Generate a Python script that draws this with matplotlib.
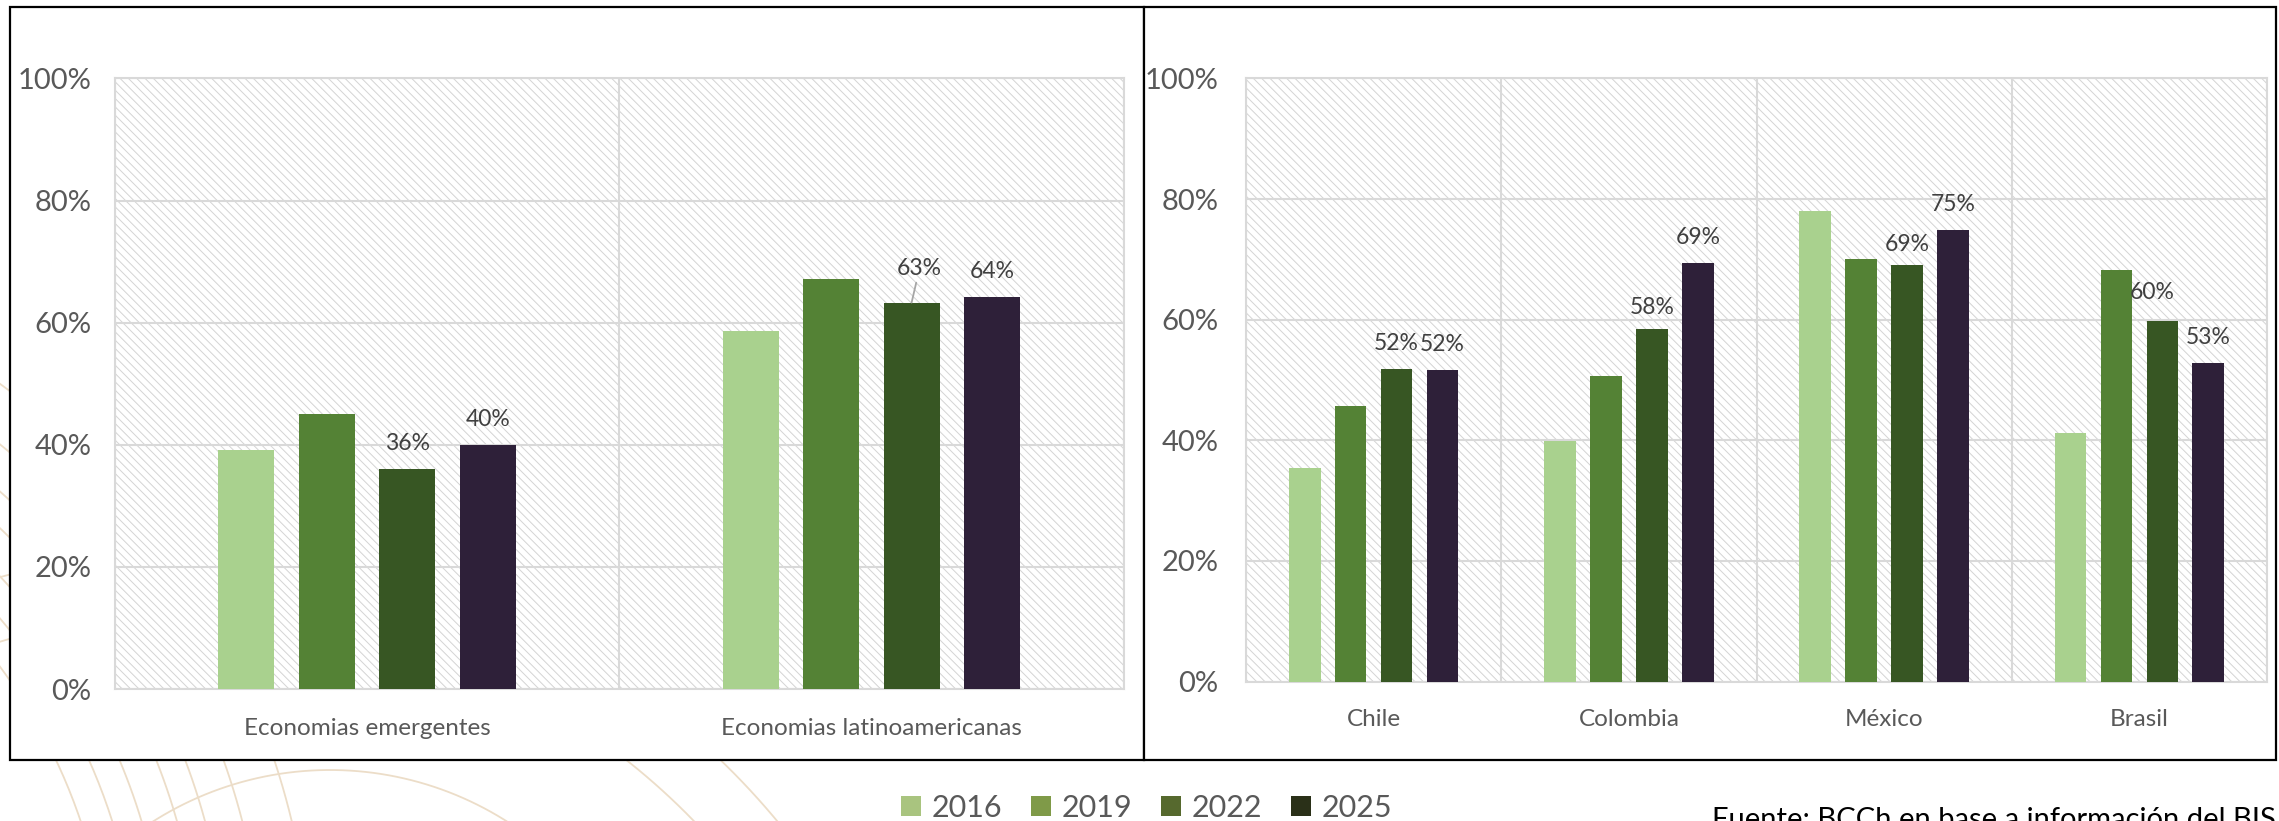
import matplotlib
matplotlib.use('Agg')
import matplotlib.pyplot as plt
import numpy as np
from matplotlib.patches import Rectangle, Patch

plt.rcParams['font.family'] = ['Lato', 'DejaVu Sans']
plt.rcParams['hatch.linewidth'] = 0.7
plt.rcParams['hatch.color'] = '#d4d4d4'

# ---------------- data ----------------
years = ['2016', '2019', '2022', '2025']

regions = ['Economias emergentes', 'Economias latinoamericanas']
region_2016 = [39.1, 58.7]
region_2019 = [45.1, 67.2]
region_2022 = [36.1, 63.3]
region_2025 = [40.0, 64.2]

countries = ['Chile', 'Colombia', 'México', 'Brasil']
country_2016 = [35.4, 39.9, 78.0, 41.2]
country_2019 = [45.7, 50.6, 70.1, 68.2]
country_2022 = [51.9, 58.4, 69.0, 59.8]
country_2025 = [51.6, 69.4, 74.8, 52.9]

labeled_years = ['2022', '2025']
yticks = [0, 20, 40, 60, 80, 100]
ytick_labels = ['0%', '20%', '40%', '60%', '80%', '100%']
source_text = 'Fuente: BCCh en base a información del BIS'

# ---------------- style ----------------
bar_colors = ['#A9D18E', '#548235', '#375623', '#2E2039']
legend_colors = ['#A9C47F', '#7F9A48', '#56692E', '#2A3018']
TXT = '#595959'
LBL = '#404040'
GRID = '#d9d9d9'
DECO = '#ECDDC8'

# label nudges (pixels) : (dx, dy, leader line)
label_nudge = {
    ('Economias latinoamericanas', '2022'): (8, 28, True),
    ('Brasil', '2022'): (-10, 22, False),
    ('Colombia', '2022'): (0, 15, False),
    ('México', '2022'): (0, 14, False),
}
DEFAULT_DY = 19

W, H = 2279, 821
fig = plt.figure(figsize=(W / 100, H / 100), dpi=100)


def fx(px):
    return px / W


def fy(py):
    return 1 - py / H


# ---------------- background decoration & frames ----------------
bg = fig.add_axes([0, 0, 1, 1], zorder=-10)
bg.set_xlim(0, W)
bg.set_ylim(H, 0)
bg.axis('off')

t = np.linspace(0, 2 * np.pi, 800)
for r in [560, 590, 618, 652, 679, 715, 763]:
    bg.plot(-450 + r * np.cos(t), 1000 + r * np.sin(t), color=DECO, lw=1.3)
bg.plot(330 + 330 * np.cos(t), 1100 + 330 * np.sin(t), color=DECO, lw=1.3)
for r in [688, 750]:
    bg.plot(200 + r * np.cos(t), 1300 + r * np.sin(t), color=DECO, lw=1.3)

bg.add_patch(Rectangle((10, 7), 1134, 753, facecolor='white', edgecolor='black', lw=1.6, zorder=5))
bg.add_patch(Rectangle((1144, 7), 1132, 753, facecolor='white', edgecolor='black', lw=1.6, zorder=5))


# ---------------- charts ----------------
def draw(ax, cats, series, width, step, xpad, ypad):
    n = len(cats)
    x = np.arange(n)
    ax.set_facecolor('white')
    ax.add_patch(Rectangle((0, 0), 1, 1, transform=ax.transAxes, facecolor='white',
                           edgecolor='#d4d4d4', hatch='\\\\\\\\', lw=0, zorder=0))
    for i, (yr, vals, col) in enumerate(zip(years, series, bar_colors)):
        xs = x + (i - 1.5) * step
        ax.bar(xs, vals, width, color=col, edgecolor='none', zorder=3)
        if yr in labeled_years:
            for cat, xi, v in zip(cats, xs, vals):
                dx, dy, leader = label_nudge.get((cat, yr), (0, DEFAULT_DY, False))
                kw = {}
                if leader:
                    kw['arrowprops'] = dict(arrowstyle='-', color='#a6a6a6', lw=1.3,
                                            shrinkA=1, shrinkB=0)
                ax.annotate(f'{round(v)}%', xy=(xi, v), xytext=(dx, dy),
                            textcoords='offset pixels', ha='center', va='baseline',
                            fontsize=16.5, color=LBL, zorder=5, **kw)
    ax.set_xlim(-0.5, n - 0.5)
    ax.set_ylim(0, 100)
    ax.set_yticks(yticks)
    ax.set_yticklabels(ytick_labels)
    ax.set_xticks(x)
    ax.set_xticklabels(cats)
    ax.set_xticks(np.arange(-0.5, n, 1.0), minor=True)
    ax.set_axisbelow(True)
    ax.yaxis.grid(True, color=GRID, lw=1.5)
    ax.xaxis.grid(True, which='minor', color=GRID, lw=1.5)
    ax.xaxis.grid(False, which='major')
    for s in ax.spines.values():
        s.set_color(GRID)
        s.set_linewidth(1.5)
    ax.tick_params(axis='y', length=0, labelsize=21, labelcolor=TXT, pad=ypad)
    ax.tick_params(axis='x', which='both', length=0, labelsize=17.5, labelcolor=TXT, pad=xpad)


axL = fig.add_axes([fx(115), fy(689), (1123.5 - 115) / W, (689 - 78.5) / H])
draw(axL, regions, [region_2016, region_2019, region_2022, region_2025],
     width=0.111, step=0.1596, xpad=21, ypad=17)

axR = fig.add_axes([fx(1246), fy(681.6), (2267 - 1246) / W, (681.6 - 78.5) / H])
draw(axR, countries, [country_2016, country_2019, country_2022, country_2025],
     width=0.124, step=0.180, xpad=20, ypad=20)

# ---------------- legend ----------------
handles = [Patch(facecolor=c, edgecolor='none', label=y) for c, y in zip(legend_colors, years)]
fig.legend(handles=handles, loc='center', bbox_to_anchor=(fx(1146.5), fy(808)), ncol=4,
           frameon=False, fontsize=22, handlelength=0.65, handleheight=0.65,
           handletextpad=0.35, columnspacing=0.95, labelcolor=TXT, borderpad=0)

# ---------------- source ----------------
src = fig.text(fx(1712), fy(826), source_text, fontsize=20, color='black',
               ha='left', va='baseline')
renderer = fig.canvas.get_renderer()
w = src.get_window_extent(renderer).width
fs = 20 * 563 / w
src.set_fontsize(fs)
src.set_position((fx(1712), fy(807 + 0.717 * fs * 100 / 72)))

fig.savefig('out.png', dpi=100)
